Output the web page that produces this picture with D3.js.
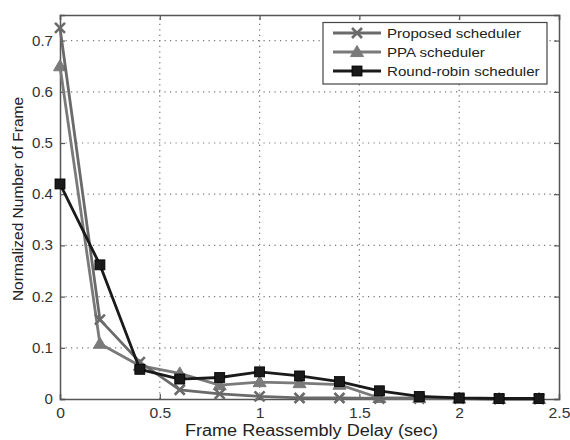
<!DOCTYPE html>
<html>
<head>
<meta charset="utf-8">
<script src="https://cdn.jsdelivr.net/npm/d3@7"></script>
<style>
  html, body { margin: 0; padding: 0; background: #fff; }
  svg { display: block; font-family: "Liberation Sans", Arial, sans-serif; }
</style>
</head>
<body>
<svg id="chart" width="570" height="440"></svg>
<script>
// Frame reassembly delay bins (sec)
const delays = [0, 0.2, 0.4, 0.6, 0.8, 1.0, 1.2, 1.4, 1.6, 1.8, 2.0, 2.2, 2.4];

// Normalized number of frames per scheduler
const proposed   = [0.725, 0.155, 0.072, 0.018, 0.010, 0.005, 0.002, 0.002, 0.001, 0.001, 0.001, 0.0, 0.0];
const ppa        = [0.65, 0.108, 0.065, 0.050, 0.027, 0.033, 0.031, 0.028, 0.002, 0.002, 0.001, 0.0, 0.0];
const roundRobin = [0.42, 0.262, 0.058, 0.039, 0.042, 0.053, 0.045, 0.034, 0.016, 0.005, 0.002, 0.001, 0.001];

const seriesNames = ["Proposed scheduler", "PPA scheduler", "Round-robin scheduler"];
const xTicks = [0, 0.5, 1, 1.5, 2, 2.5];
const xTickLabels = ["0", "0.5", "1", "1.5", "2", "2.5"];
const yTicks = [0, 0.1, 0.2, 0.3, 0.4, 0.5, 0.6, 0.7];
const yTickLabels = ["0", "0.1", "0.2", "0.3", "0.4", "0.5", "0.6", "0.7"];

const svg = d3.select("#chart");
const m = { left: 60, right: 11, top: 15, bottom: 41 };
const W = 570, H = 440;

const x = d3.scaleLinear().domain([0, 2.5]).range([m.left, W - m.right]);
const y = d3.scaleLinear().domain([0, 0.75]).range([H - m.bottom, m.top]);

const frameColor = "#555";

// widen horizontal text slightly (wide sans face)
function widen(sel, k) {
  sel.each(function () {
    const len = this.getComputedTextLength();
    d3.select(this).attr("textLength", len * k).attr("lengthAdjust", "spacingAndGlyphs");
  });
}

// dotted grid
const grid = svg.append("g");
grid.selectAll("line.gx").data(xTicks.slice(1, -1)).enter().append("line")
  .attr("x1", d => x(d)).attr("x2", d => x(d))
  .attr("y1", y(0)).attr("y2", y(0.75))
  .attr("stroke", "#777").attr("stroke-width", 1.2).attr("stroke-dasharray", "1.2,4.3");
grid.selectAll("line.gy").data(yTicks.slice(1)).enter().append("line")
  .attr("y1", d => y(d)).attr("y2", d => y(d))
  .attr("x1", x(0)).attr("x2", x(2.5))
  .attr("stroke", "#777").attr("stroke-width", 1.2).attr("stroke-dasharray", "1.2,4.3");

// axes with inward ticks
const xAxis = d3.axisBottom(x).tickValues(xTicks).tickSize(-5).tickPadding(9)
  .tickFormat((d, i) => xTickLabels[i]);
const yAxis = d3.axisLeft(y).tickValues(yTicks).tickSize(-5).tickPadding(7)
  .tickFormat((d, i) => yTickLabels[i]);

const gx = svg.append("g").attr("transform", `translate(0,${y(0)})`).call(xAxis);
const gy = svg.append("g").attr("transform", `translate(${x(0)},0)`).call(yAxis);
const gxTop = svg.append("g").attr("transform", `translate(0,${y(0.75)})`)
  .call(d3.axisTop(x).tickValues(xTicks).tickSize(-5).tickFormat(""));
const gyRight = svg.append("g").attr("transform", `translate(${x(2.5)},0)`)
  .call(d3.axisRight(y).tickValues(yTicks).tickSize(-5).tickFormat(""));

[gx, gy, gxTop, gyRight].forEach(g => {
  g.select(".domain").attr("stroke", frameColor).attr("stroke-width", 1.5);
  g.selectAll(".tick line").attr("stroke", frameColor).attr("stroke-width", 1.2);
  g.selectAll(".tick text").attr("fill", "#333").style("font-size", "14px")
    .style("font-family", "'Liberation Sans', Arial, sans-serif");
});
widen(gx.selectAll(".tick text"), 1.12);
widen(gy.selectAll(".tick text"), 1.08);

// axis titles
const xTitle = svg.append("text")
  .attr("x", (x(0) + x(2.5)) / 2 + 2).attr("y", 436)
  .attr("text-anchor", "middle").attr("fill", "#222")
  .style("font-size", "16px")
  .text("Frame Reassembly Delay (sec)");
widen(xTitle, 1.13);
svg.append("text")
  .attr("transform", `translate(23,${(y(0) + y(0.75)) / 2 - 8}) rotate(-90)`)
  .attr("text-anchor", "middle").attr("fill", "#222")
  .style("font-size", "15.5px")
  .text("Normalized Number of Frame");

// series
const series = [
  { name: seriesNames[0], values: proposed,   color: "#6a6a6a", marker: "x" },
  { name: seriesNames[1], values: ppa,        color: "#7a7a7a", marker: "tri" },
  { name: seriesNames[2], values: roundRobin, color: "#1a1a1a", marker: "sq" }
];

const line = d3.line().x((d, i) => x(delays[i])).y(d => y(d));

function drawMarker(g, type, cx, cy, color) {
  if (type === "x") {
    const s = 5;
    g.append("path")
      .attr("d", `M${cx - s},${cy - s}L${cx + s},${cy + s}M${cx - s},${cy + s}L${cx + s},${cy - s}`)
      .attr("stroke", color).attr("stroke-width", 2.6).attr("fill", "none");
  } else if (type === "tri") {
    const s = 6.5;
    g.append("path")
      .attr("d", `M${cx},${cy - s}L${cx + s},${cy + s * 0.7}L${cx - s},${cy + s * 0.7}Z`)
      .attr("fill", color).attr("stroke", color).attr("stroke-width", 1);
  } else {
    const s = 5;
    g.append("rect")
      .attr("x", cx - s).attr("y", cy - s).attr("width", 2 * s).attr("height", 2 * s)
      .attr("fill", color).attr("stroke", "#000").attr("stroke-width", 0.8);
  }
}

// grey series first so the black line sits on top
[series[1], series[0], series[2]].forEach(s => {
  const g = svg.append("g");
  g.append("path").datum(s.values)
    .attr("d", line).attr("fill", "none")
    .attr("stroke", s.color).attr("stroke-width", 2.8).attr("stroke-linejoin", "round");
  s.values.forEach((v, i) => drawMarker(g, s.marker, x(delays[i]), y(v), s.color));
});

// legend
const lg = svg.append("g");
lg.append("rect").attr("x", 323).attr("y", 22.5).attr("width", 224).attr("height", 61.5)
  .attr("fill", "#fff").attr("stroke", "#444").attr("stroke-width", 1.2);
series.forEach((s, i) => {
  const ly = 33 + i * 19;
  lg.append("line").attr("x1", 333).attr("x2", 381).attr("y1", ly).attr("y2", ly)
    .attr("stroke", s.color).attr("stroke-width", 2.8);
  drawMarker(lg, s.marker, 357, ly, s.color);
  const t = lg.append("text").attr("x", 387).attr("y", ly).attr("dy", "0.36em")
    .attr("fill", "#222").style("font-size", "13px").text(s.name);
  widen(t, 1.16);
});
</script>
</body>
</html>
